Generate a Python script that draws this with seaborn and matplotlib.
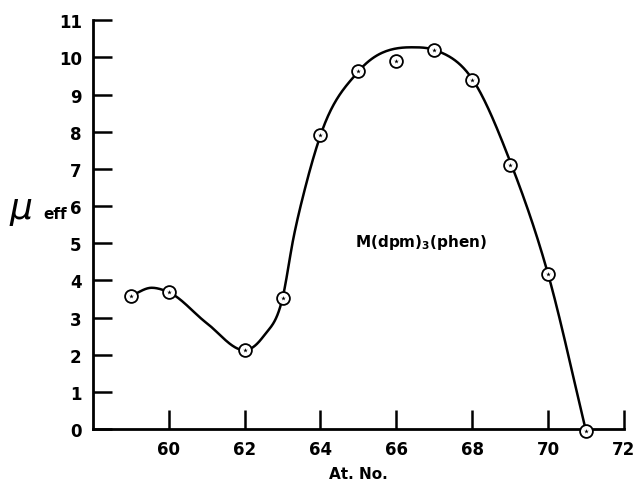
import numpy as np
import pandas as pd
import seaborn as sns
import matplotlib.pyplot as plt

# measured points (atomic number vs effective moment)
at_no = [59, 60, 62, 63, 64, 65, 66, 67, 68, 69, 70, 71]
mu_eff = [3.58, 3.68, 2.12, 3.52, 7.9, 9.62, 9.9, 10.2, 9.38, 7.1, 4.17, -0.05]

# hand-drawn smooth curve, knots
curve_x = [59, 59.55, 60, 61, 62, 62.5, 63, 63.3, 63.6, 64, 65, 66.4, 67, 68, 69, 70, 71]
curve_y = [3.58, 3.8, 3.68, 2.85, 2.12, 2.5, 3.52, 5.2, 6.5, 7.9, 9.62, 10.27, 10.2, 9.42, 7.2, 4.17, -0.05]

xticks = [60, 62, 64, 66, 68, 70, 72]
yticks = list(range(0, 12))


def monotone_cubic(xk, yk, n=40):
    # Fritsch-Carlson: three-point slopes, flattened at extrema, limited to avoid overshoot
    xk = np.asarray(xk, float)
    yk = np.asarray(yk, float)
    h = np.diff(xk)
    d = np.diff(yk) / h
    m = np.gradient(yk, xk)
    for k in range(1, len(xk) - 1):
        if d[k - 1] * d[k] <= 0:
            m[k] = 0
    for k in range(len(d)):
        a = m[k] / d[k]
        b = m[k + 1] / d[k]
        r = a * a + b * b
        if r > 9:
            tau = 3 / np.sqrt(r)
            m[k] = tau * a * d[k]
            m[k + 1] = tau * b * d[k]
    xs, ys = [], []
    for i in range(len(xk) - 1):
        t = np.linspace(0, 1, n, endpoint=False)
        y = (2 * t**3 - 3 * t**2 + 1) * yk[i] + (t**3 - 2 * t**2 + t) * h[i] * m[i] \
            + (-2 * t**3 + 3 * t**2) * yk[i + 1] + (t**3 - t**2) * h[i] * m[i + 1]
        xs.append(xk[i] + t * h[i])
        ys.append(y)
    xs.append([xk[-1]])
    ys.append([yk[-1]])
    return np.concatenate(xs), np.concatenate(ys)


cx, cy = monotone_cubic(curve_x, curve_y)
curve_df = pd.DataFrame({'x': cx, 'y': cy})
pts_df = pd.DataFrame({'x': at_no, 'y': mu_eff})

sns.set_style('ticks')
plt.rcParams['font.family'] = ['DejaVu Sans']
plt.rcParams['text.color'] = 'black'
plt.rcParams['xtick.labelcolor'] = 'black'
plt.rcParams['ytick.labelcolor'] = 'black'

fig = plt.figure(figsize=(6.36, 4.81), dpi=100)
ax = fig.add_axes([0.146, 0.106, 0.835, 0.85])

sns.lineplot(data=curve_df, x='x', y='y', ax=ax, color='black', linewidth=1.8, sort=False, zorder=2)
sns.scatterplot(data=pts_df, x='x', y='y', ax=ax, marker='o', s=85, facecolor='white',
                edgecolor='black', linewidth=1.3, zorder=3, clip_on=False)
sns.scatterplot(data=pts_df, x='x', y='y', ax=ax, marker='*', s=12, color='black',
                linewidth=0, zorder=4, clip_on=False)

ax.set_xlim(58, 72)
ax.set_ylim(0, 11)
ax.set_xticks(xticks)
ax.set_yticks(yticks)
ax.tick_params(direction='in', length=14, width=1.8, labelsize=12, pad=8, color='black')
for lab in ax.get_xticklabels() + ax.get_yticklabels():
    lab.set_fontweight('bold')
sns.despine(ax=ax)
for s in ['left', 'bottom']:
    ax.spines[s].set_linewidth(2)
    ax.spines[s].set_color('black')

ax.set_xlabel('At. No.', fontsize=11, fontweight='bold', labelpad=6, color='black')
ax.set_ylabel('')
fig.text(0.015, 0.565, 'μ', fontsize=26, style='italic', va='center')
fig.text(0.068, 0.555, 'eff', fontsize=11, fontweight='bold', va='center')

ax.text(64.9, 5.05, r'M(dpm)$_\mathbf{3}$(phen)', fontsize=11, fontweight='bold', va='center')

fig.savefig('out.png', dpi=100)
